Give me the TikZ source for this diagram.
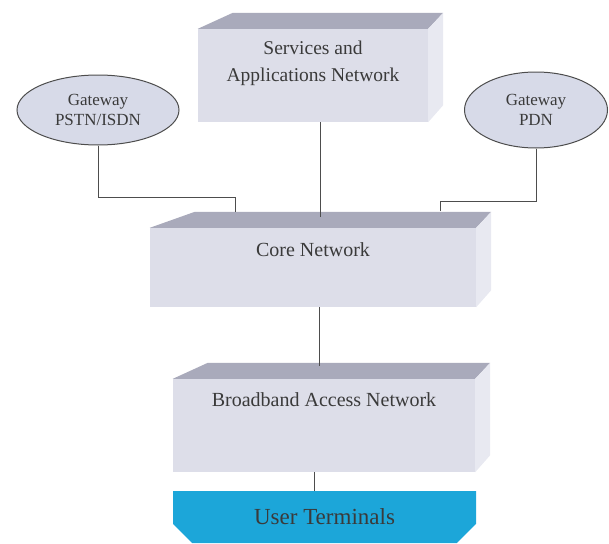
\documentclass[tikz,border=0pt]{standalone}
\usepackage{fontspec}
\setmainfont{Liberation Serif}
\usepackage{xcolor}
\usetikzlibrary{shapes.geometric,shapes.misc,positioning,calc}
\definecolor{facefront}{HTML}{DDDEE9}
\definecolor{facetop}{HTML}{A9AABB}
\definecolor{faceside}{HTML}{E8E9F1}
\definecolor{gwfill}{HTML}{D7DAE8}
\definecolor{termblue}{HTML}{1CA6D9}
\definecolor{txtgray}{HTML}{3A3A3A}
\definecolor{linegray}{HTML}{4D4D4D}

\begin{document}
\begin{tikzpicture}[x=1pt,y=-1pt,
    front/.style={fill=facefront, inner sep=0pt, minimum width=#1},
    boxtext/.style={text=txtgray, align=center, inner sep=0pt, font=\fontsize{20}{26}\selectfont},
    gateway/.style={ellipse, draw=linegray, line width=1pt, fill=gwfill, text=txtgray, align=center,
        inner sep=0pt, font=\fontsize{17}{20}\selectfont},
    link/.style={draw=linegray, line width=1pt}]
    \useasboundingbox (0,0) rectangle (609,543);

    % Services and Applications Network
    \node[front=230, minimum height=93] (san) at (313,75.5) {};
    \node[boxtext, font=\fontsize{19.5}{27}\selectfont] (san-txt) at (313,63) {Services and\\Applications Network};

    % Core Network
    \node[front=326, minimum height=79] (core) at (313,267.5) {};
    \node[boxtext] (core-txt) at (313,250) {Core Network};

    % Broadband Access Network
    \node[front=302, minimum height=93] (bb) at (324,425.5) {};
    \node[boxtext] (bb-txt) at (324,400) {Broadband Access Network};

    % top and side faces
    \foreach \b/\dx in {san/35, core/45, bb/35} {
        \fill[facetop] (\b.north west) -- ++(\dx,-16) -- ($(\b.north east)+(15,-16)$) -- (\b.north east) -- cycle;
        \fill[faceside] (\b.north east) -- ++(15,-16) -- ($(\b.south east)+(15,-17)$) -- (\b.south east) -- cycle;
    }

    % User Terminals
    \node[chamfered rectangle, chamfered rectangle corners={south west,south east}, chamfered rectangle sep=11pt,
        fill=termblue, minimum width=303, minimum height=52, inner sep=0pt,
        text=txtgray, font=\fontsize{23}{26}\selectfont] (ut) at (324.5,517) {User Terminals};

    % Gateways
    \node[gateway, minimum width=162, minimum height=70] (gw-pstn) at (98,110) {Gateway\\PSTN/ISDN};
    \node[gateway, minimum width=143, minimum height=76] (gw-pdn) at (536,110) {Gateway\\PDN};

    % connections
    \coordinate (core-l) at (235,212);
    \coordinate (core-m) at (320,217);
    \coordinate (core-r) at (440,211);
    \coordinate (bb-in) at (319,366);
    \draw[link] (gw-pstn.south) -- ++(0,52) -| (core-l);
    \draw[link] (gw-pdn.south) -- ++(0,53) -| (core-r);
    \draw[link] (san.south -| core-m) -- (core-m);
    \draw[link] (core.south -| bb-in) -- (bb-in);
    \draw[link] ($(bb.south)+(-10,0)$) -- ($(ut.north)+(-10.5,0)$);
\end{tikzpicture}
\end{document}
